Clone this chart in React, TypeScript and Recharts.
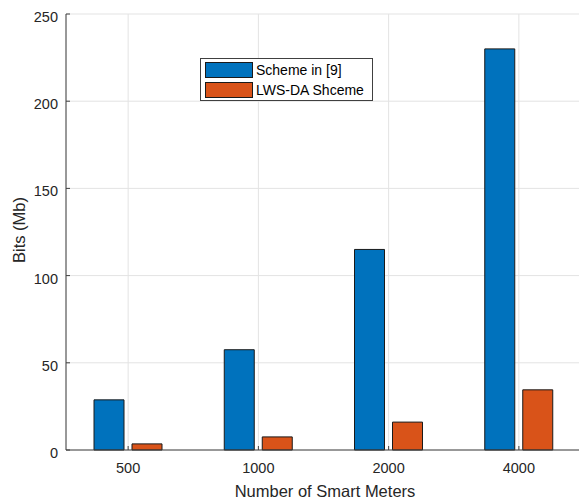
import React from 'react';
import { BarChart, Bar, XAxis, YAxis, CartesianGrid, Legend, Label } from 'recharts';

const meters = ['500', '1000', '2000', '4000'];
const schemeIn9 = [28.75, 57.5, 115, 230];
const lwsDa = [3.5, 7.5, 16, 34.5];
const yTicks = [0, 50, 100, 150, 200, 250];
const seriesNames = ['Scheme in [9]', 'LWS-DA Shceme'];
const seriesColors = ['#0072BD', '#D95319'];

const data = meters.map((m, i) => ({ meters: m, scheme9: schemeIn9[i], lwsda: lwsDa[i] }));

const FONT = '"Liberation Sans", Arial, Helvetica, sans-serif';
const AXIS = '#404040';
const TEXT = '#262626';
const EDGE = '#1a1a1a';

// MATLAB style: ticks point inward, labels sit outside
const BottomTick = (props: any) => {
  const { x, y, payload } = props;
  return (
    <g>
      <line x1={x} x2={x} y1={y} y2={y - 4} stroke={AXIS} />
      <text x={x} y={y + 22.5} textAnchor="middle" fill={TEXT} fontSize={14.5} fontFamily={FONT}>
        {payload.value}
      </text>
    </g>
  );
};

const TopTick = (props: any) => {
  const { x, y } = props;
  return <line x1={x} x2={x} y1={y} y2={y + 4} stroke={AXIS} />;
};

const LeftTick = (props: any) => {
  const { x, y, payload } = props;
  return (
    <g>
      <line x1={x} x2={x + 4} y1={y} y2={y} stroke={AXIS} />
      <text x={x - 8} y={y + 8} textAnchor="end" fill={TEXT} fontSize={14.5} fontFamily={FONT}>
        {payload.value}
      </text>
    </g>
  );
};

const LegendBox = () => (
  <div
    style={{
      width: 171,
      height: 41,
      border: `1px solid ${AXIS}`,
      background: '#fff',
      boxSizing: 'content-box',
      fontFamily: FONT,
      fontSize: 14,
      color: '#000',
    }}
  >
    {seriesNames.map((name, i) => (
      <div key={name} style={{ display: 'flex', alignItems: 'center', height: 16, marginTop: i === 0 ? 3 : 4, marginLeft: 4 }}>
        <div
          style={{
            width: 46,
            height: 14,
            background: seriesColors[i],
            border: `1px solid ${EDGE}`,
            marginRight: 3,
          }}
        />
        <span style={{ lineHeight: '16px', whiteSpace: 'nowrap' }}>{name}</span>
      </div>
    ))}
  </div>
);

export default function App() {
  return (
    <div style={{ position: 'absolute', left: 0, top: 0, width: 579, height: 503, overflow: 'hidden', background: '#fff' }}>
      <BarChart
        width={584}
        height={503}
        data={data}
        margin={{ top: 14, right: 0, left: 0, bottom: 0 }}
        barSize={30}
        barGap={8}
      >
        <CartesianGrid stroke="#e3e3e3" strokeWidth={1} />
        <XAxis
          dataKey="meters"
          height={53}
          padding={{ left: -3, right: 0 }}
          stroke={AXIS}
          tickLine={false}
          tickSize={0}
          tickMargin={0}
          tick={BottomTick}
          interval={0}
        >
          <Label
            value="Number of Smart Meters"
            position="insideBottom"
            offset={6}
            fill={TEXT}
            fontSize={16.5}
            fontFamily={FONT}
          />
        </XAxis>
        <XAxis
          xAxisId="top"
          dataKey="meters"
          orientation="top"
          height={0}
          padding={{ left: -3, right: 0 }}
          stroke={AXIS}
          tickLine={false}
          tickSize={0}
          tickMargin={0}
          tick={TopTick}
          interval={0}
        />
        <YAxis
          width={66}
          domain={[0, 250]}
          ticks={yTicks}
          stroke={AXIS}
          tickLine={false}
          tickSize={0}
          tickMargin={0}
          tick={LeftTick}
          interval={0}
        >
          <Label
            content={() => (
              <text
                x={25}
                y={230}
                transform="rotate(-90, 25, 230)"
                textAnchor="middle"
                fill={TEXT}
                fontSize={16.5}
                fontFamily={FONT}
              >
                Bits (Mb)
              </text>
            )}
          />
        </YAxis>
        <Legend
          layout="vertical"
          align="center"
          verticalAlign="middle"
          wrapperStyle={{ left: 200, top: 58, width: 'auto' }}
          content={() => <LegendBox />}
        />
        <Bar dataKey="scheme9" name={seriesNames[0]} fill={seriesColors[0]} stroke={EDGE} strokeWidth={1} isAnimationActive={false} />
        <Bar dataKey="lwsda" name={seriesNames[1]} fill={seriesColors[1]} stroke={EDGE} strokeWidth={1} isAnimationActive={false} />
      </BarChart>
    </div>
  );
}
